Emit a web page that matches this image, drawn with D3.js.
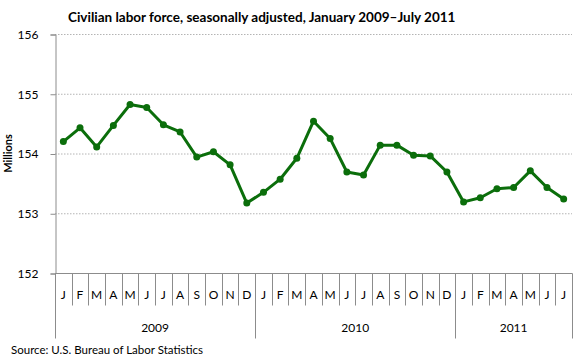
<!DOCTYPE html>
<html>
<head>
<meta charset="utf-8">
<script src="https://cdn.jsdelivr.net/npm/d3@7"></script>
<style>
body { margin: 0; background: #fff; }
text { font-family: Lato, "Open Sans", sans-serif; }
</style>
</head>
<body>
<script>
const months = ['J','F','M','A','M','J','J','A','S','O','N','D',
    'J','F','M','A','M','J','J','A','S','O','N','D',
    'J','F','M','A','M','J','J']
const years = ['2009', '2010', '2011']
const yearLengths = [12, 12, 7]
const laborForce = [154.20, 154.43, 154.11, 154.47, 154.82, 154.77, 154.48, 154.36, 153.94, 154.03, 153.81, 153.17,
    153.35, 153.57, 153.92, 154.54, 154.25, 153.69, 153.64, 154.14, 154.14, 153.97, 153.96, 153.69,
    153.19, 153.26, 153.41, 153.43, 153.71, 153.43, 153.24]
const yTicks = [152, 153, 154, 155, 156]

const dimensions = { width: 580, height: 363 }
const margin = { left: 55, right: 8, top: 34, bottom: 90 }

const svg = d3.select('body').append('svg')
    .attr('width', dimensions.width)
    .attr('height', dimensions.height)

const x = d3.scaleBand()
    .domain(d3.range(months.length))
    .range([margin.left, dimensions.width - margin.right])

const y = d3.scaleLinear()
    .domain([152, 156])
    .range([dimensions.height - margin.bottom, margin.top])

const axisColor = '#8c8c8c'

// gridlines
svg.selectAll('.grid')
    .data(yTicks.slice(1))
    .enter()
    .append('line')
    .attr('x1', margin.left)
    .attr('x2', dimensions.width - margin.right)
    .attr('y1', d => y(d) + 0.5)
    .attr('y2', d => y(d) + 0.5)
    .attr('stroke', '#b4b4b4')
    .attr('stroke-dasharray', '1.5,1.5')

// y axis
const yAxis = svg.append('g')
    .attr('transform', `translate(${margin.left + 0.5},0.5)`)
    .call(d3.axisLeft(y).tickValues(yTicks).tickSize(5).tickPadding(12).tickFormat(d3.format('d')))
yAxis.select('.domain').attr('stroke', axisColor)
yAxis.selectAll('.tick line').attr('stroke', axisColor)
yAxis.selectAll('.tick text').attr('font-size', 12).attr('fill', '#000')
    .attr('font-family', 'Lato, sans-serif')

// x axis baseline
const baseY = y(152) + 0.5
svg.append('line')
    .attr('x1', margin.left).attr('x2', dimensions.width - margin.right)
    .attr('y1', baseY).attr('y2', baseY)
    .attr('stroke', axisColor)

// month separators
svg.selectAll('.msep')
    .data(d3.range(months.length + 1))
    .enter()
    .append('line')
    .attr('x1', d => Math.round(margin.left + d * x.bandwidth()) + 0.5)
    .attr('x2', d => Math.round(margin.left + d * x.bandwidth()) + 0.5)
    .attr('y1', baseY)
    .attr('y2', baseY + 32)
    .attr('stroke', axisColor)

svg.selectAll('.mlabel')
    .data(months)
    .enter()
    .append('text')
    .attr('x', (d, i) => x(i) + x.bandwidth() / 2)
    .attr('y', baseY + 25)
    .attr('text-anchor', 'middle')
    .attr('font-size', 12)
    .text(d => d)

// year separators and labels
let start = 0
const yearStarts = yearLengths.map(n => { const s = start; start += n; return s })
svg.selectAll('.ysep')
    .data(yearStarts.concat([months.length]))
    .enter()
    .append('line')
    .attr('x1', d => Math.round(margin.left + d * x.bandwidth()) + 0.5)
    .attr('x2', d => Math.round(margin.left + d * x.bandwidth()) + 0.5)
    .attr('y1', baseY)
    .attr('y2', baseY + 65)
    .attr('stroke', axisColor)

svg.selectAll('.ylabel')
    .data(years)
    .enter()
    .append('text')
    .attr('x', (d, i) => margin.left + (yearStarts[i] + yearLengths[i] / 2) * x.bandwidth())
    .attr('y', baseY + 58)
    .attr('text-anchor', 'middle')
    .attr('font-size', 12)
    .text(d => d)

// line
const line = d3.line()
    .x((d, i) => x(i) + x.bandwidth() / 2)
    .y(d => y(d))

svg.append('path')
    .datum(laborForce)
    .attr('d', line)
    .attr('fill', 'none')
    .attr('stroke', '#0b6e0b')
    .attr('stroke-width', 3)
    .attr('stroke-linejoin', 'round')

svg.selectAll('.dot')
    .data(laborForce)
    .enter()
    .append('circle')
    .attr('cx', (d, i) => x(i) + x.bandwidth() / 2)
    .attr('cy', d => y(d))
    .attr('r', 3.5)
    .attr('fill', '#0b6e0b')

// title, y label, source
svg.append('text')
    .attr('x', 68)
    .attr('y', 22)
    .attr('font-size', 13.5)
    .attr('font-weight', 'bold')
    .text('Civilian labor force, seasonally adjusted, January 2009\u2013July 2011')

svg.append('text')
    .attr('transform', `translate(12,${y(154)}) rotate(-90)`)
    .attr('text-anchor', 'middle')
    .attr('font-size', 11)
    .attr('font-weight', 'bold')
    .text('Millions')

svg.append('text')
    .attr('x', 11)
    .attr('y', 354)
    .attr('font-size', 11.5)
    .text('Source: U.S. Bureau of Labor Statistics')
</script>
</body>
</html>
